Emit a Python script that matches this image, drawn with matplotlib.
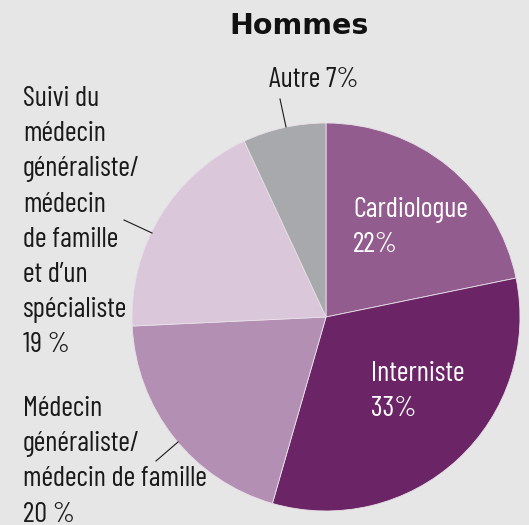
import matplotlib
matplotlib.use("Agg")
import matplotlib.pyplot as plt

title = "Hommes"
categories = ["Cardiologue", "Interniste", "Médecin généraliste/médecin de famille",
              "Suivi du médecin généraliste/médecin de famille et d'un spécialiste", "Autre"]
values = [22, 33, 20, 19, 7]
labels = ["Cardiologue\n22%", "Interniste\n33%",
          "Médecin\ngénéraliste/\nmédecin de famille\n20 %",
          "Suivi du\nmédecin\ngénéraliste/\nmédecin\nde famille\net d\u2019un\nspécialiste\n19 %",
          "Autre 7%"]
colors = ["#925c8e", "#6b2566", "#b48fb4", "#dac7da", "#a7a9ac"]
bg = "#e6e6e6"

W, H = 529, 525
fig = plt.figure(figsize=(W / 100, H / 100), dpi=100, facecolor=bg)
ax = fig.add_axes([0, 0, 1, 1])

cx, cy, r = 326, H - 317, 194
ax.pie(values, colors=colors, startangle=90, counterclock=False,
       center=(cx, cy), radius=r, frame=True,
       wedgeprops=dict(edgecolor="#e8e0e8", linewidth=0.6))
ax.set_xlim(0, W)
ax.set_ylim(0, H)
ax.set_aspect("equal")
ax.axis("off")

fam = ["Barlow Condensed", "DejaVu Sans"]
fs = 20.5
ls = 1.46

ax.text(299, H - 26, title, ha="center", va="center", fontsize=20.5,
        fontweight="bold", family="DejaVu Sans", color="#111111")

# inside labels
ax.text(353, H - 197, labels[0], ha="left", va="top", fontsize=fs,
        family=fam, color="white", linespacing=ls)
ax.text(371, H - 361, labels[1], ha="left", va="top", fontsize=fs,
        family=fam, color="white", linespacing=ls)
# outside labels
ax.text(23, H - 396, labels[2], ha="left", va="top", fontsize=fs,
        family=fam, color="#1a1a1a", linespacing=ls)
ax.text(23, H - 86, labels[3], ha="left", va="top", fontsize=fs,
        family=fam, color="#1a1a1a", linespacing=ls)
ax.text(314, H - 67, labels[4], ha="center", va="top", fontsize=fs,
        family=fam, color="#1a1a1a", linespacing=ls)

# leader lines
ax.plot([280, 286], [H - 99, H - 127], color="#1a1a1a", lw=0.8)
ax.plot([124, 152], [H - 220, H - 233], color="#1a1a1a", lw=0.8)
ax.plot([156, 178], [H - 461, H - 442], color="#1a1a1a", lw=0.8)

fig.savefig("out.png", dpi=100, facecolor=bg)
